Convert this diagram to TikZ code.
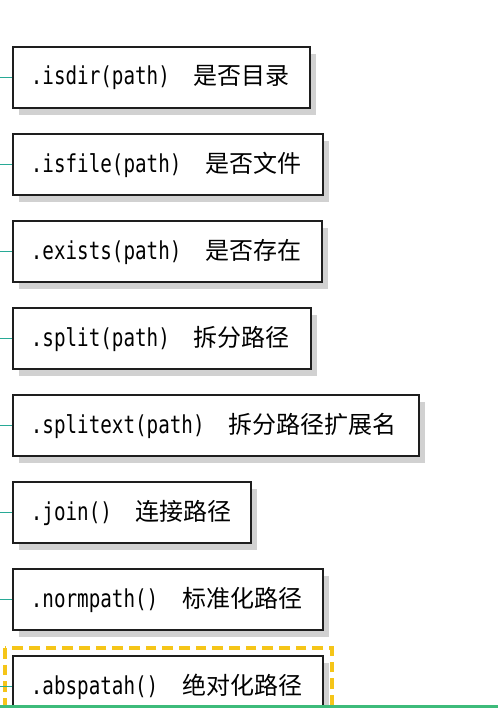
\documentclass[tikz,border=0pt]{standalone}
\usepackage{xcolor}
\usepackage{fontspec}
\usepackage{tikz}
\usetikzlibrary{shadows}
\newfontfamily\monofont[FakeStretch=0.78]{DejaVu Sans Mono}
\newfontfamily\cjk{Noto Sans CJK SC}
\definecolor{stubteal}{RGB}{40,170,150}
\definecolor{selgold}{RGB}{245,197,24}
\definecolor{bargreen}{RGB}{61,187,122}
\tikzset{
  fnbox/.style={draw={rgb,255:red,30;green,30;blue,30}, line width=1.3pt, fill=white, anchor=west,
    minimum height=45.75pt, inner xsep=13.5pt, inner ysep=0pt, align=left,
    drop shadow={shadow xshift=4.5pt, shadow yshift=-5pt, fill=black!18, opacity=1},
    font=\fontsize{18.5pt}{20pt}\selectfont},
  stub/.style={draw=stubteal, line width=1.3pt}
}
\newcommand{\fnlabel}[2]{\mbox{{\monofont #1}\hspace{18pt}{\cjk\fontsize{18pt}{20pt}\selectfont #2}}}
\begin{document}
\begin{tikzpicture}[x=0.75pt,y=-0.75pt]
	\clip (0,0) rectangle (498,708);
	
	%Shape: Selection frame
	\draw [selgold, line width=2.8pt, dash pattern=on 8pt off 4.5pt] (5,648) rectangle (332,730) ;
	
	% Text Node
	\node [fnbox, text width=195.75pt] (isdir) at (12,77.5) {\fnlabel{.isdir(path)}{是否目录}};
	% Text Node
	\node [fnbox, text width=205.5pt] (isfile) at (12,164.5) {\fnlabel{.isfile(path)}{是否文件}};
	% Text Node
	\node [fnbox, text width=204.75pt] (exists) at (12,251.5) {\fnlabel{.exists(path)}{是否存在}};
	% Text Node
	\node [fnbox, text width=196.5pt] (split) at (12,338.5) {\fnlabel{.split(path)}{拆分路径}};
	% Text Node
	\node [fnbox, text width=277.5pt] (splitext) at (12,425.5) {\fnlabel{.splitext(path)}{拆分路径扩展名}};
	% Text Node
	\node [fnbox, text width=151.5pt] (join) at (12,512.5) {\fnlabel{.join()}{连接路径}};
	% Text Node
	\node [fnbox, text width=205.5pt] (normpath) at (12,599.5) {\fnlabel{.normpath()}{标准化路径}};
	% Text Node
	\node [fnbox, text width=205.5pt] (abspatah) at (12,686.5) {\fnlabel{.abspatah()}{绝对化路径}};
	
	%Straight Lines
	\foreach \n/\y in {isdir/77.5,isfile/164.5,exists/251.5,split/338.5,splitext/425.5,join/512.5,normpath/599.5,abspatah/686.5}{
		\coordinate (in-\n) at (0,\y);
		\draw [stub] (in-\n) -- (\n.west) ;
	}
	
	%Shape: Bottom bar
	\fill [bargreen] (0,704.5) rectangle (498,708) ;
\end{tikzpicture}
\end{document}
